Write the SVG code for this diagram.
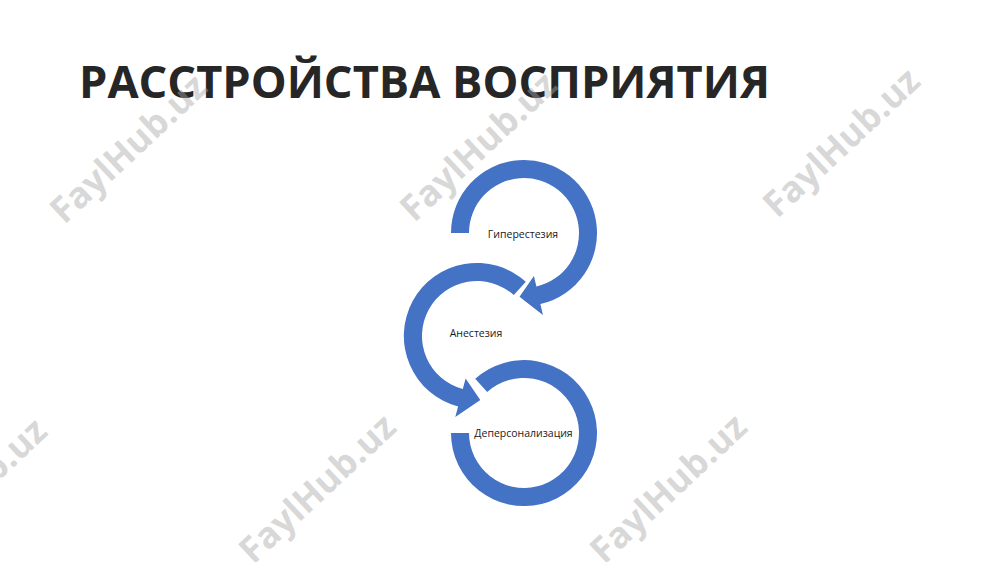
<svg xmlns="http://www.w3.org/2000/svg" width="1000" height="562" viewBox="0 0 1000 562">
  <style>
    .title { font-family: "Open Sans", "Liberation Sans", sans-serif; font-weight: 700; font-size: 45.5px; fill: #262626; }
    .arrow { fill: #4472C4; }
    .label { font-family: "Open Sans", "Liberation Sans", sans-serif; font-size: 10.5px; fill: #1a1a1a; text-anchor: middle; }
    .wm { font-family: "Open Sans", "Liberation Sans", sans-serif; font-weight: 700; font-size: 36px; fill: #a8a8a8; fill-opacity: 0.45; text-anchor: middle; }
  </style>
  <rect width="1000" height="562" fill="#ffffff"/>
  <g id="title">
    <text class="title" x="79" y="98" textLength="691" lengthAdjust="spacingAndGlyphs">РАССТРОЙСТВА ВОСПРИЯТИЯ</text>
  </g>
  <g id="connectors">
    <path class="arrow" d="M451,233 A73,73 0 1 1 540.4,304.1 L542.9,314.9 L519.5,296.8 L533.9,275.9 L536.4,286.6 A55,55 0 1 0 469,233 Z"/>
    <path class="arrow" d="M525.8,281.8 A73,73 0 1 0 458.1,406.5 L455.3,417.1 L480.3,399.9 L465.6,378.5 L462.8,389.1 A55,55 0 1 1 513.8,295.1 Z"/>
    <path class="arrow" d="M451,433 A73,73 0 1 0 475.2,378.8 L487.2,392.1 A55,55 0 1 1 469,433 Z"/>
  </g>
  <g id="node-giperestezia">
    <text class="label" x="523" y="238">Гиперестезия</text>
  </g>
  <g id="node-anestezia">
    <text class="label" x="476" y="337">Анестезия</text>
  </g>
  <g id="node-depersonalizacia">
    <text class="label" x="523.5" y="437">Деперсонализация</text>
  </g>
  <g id="watermarks">
    <text class="wm" transform="translate(128,148) rotate(-43)" y="13">FaylHub.uz</text>
    <text class="wm" transform="translate(478,146) rotate(-43)" y="13">FaylHub.uz</text>
    <text class="wm" transform="translate(841,142) rotate(-43)" y="13">FaylHub.uz</text>
    <text class="wm" transform="translate(-32,492) rotate(-43)" y="13">FaylHub.uz</text>
    <text class="wm" transform="translate(317,488) rotate(-43)" y="13">FaylHub.uz</text>
    <text class="wm" transform="translate(668,488) rotate(-43)" y="13">FaylHub.uz</text>
  </g>
</svg>
